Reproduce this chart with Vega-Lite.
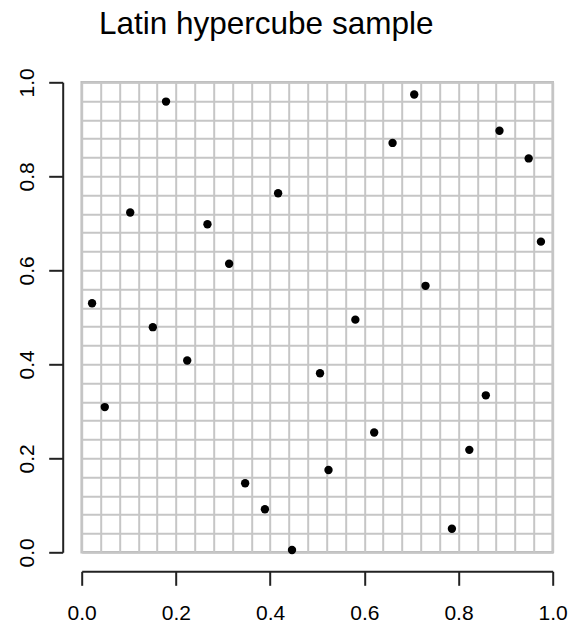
{
  "$schema": "https://vega.github.io/schema/vega-lite/v6.json",
  "width": 471,
  "height": 470,
  "autosize": {"type": "none"},
  "padding": {"left": 81.7, "top": 82.3, "right": 18.3, "bottom": 71.7},
  "background": "white",
  "title": {
    "text": "Latin hypercube sample",
    "font": "Liberation Sans",
    "fontSize": 31.5,
    "fontWeight": "normal",
    "color": "black",
    "anchor": "middle",
    "frame": "group",
    "offset": 27,
    "dx": -51
  },
  "config": {
    "view": {"stroke": "#bdbdbd", "strokeWidth": 2.5},
    "axis": {
      "labelFont": "Liberation Sans",
      "labelFontSize": 21,
      "labelColor": "black",
      "labelOverlap": false,
      "labelFlush": false,
      "gridColor": "#c6c6c6",
      "gridWidth": 2,
      "gridOpacity": 1,
      "domainColor": "#222222",
      "domainWidth": 2,
      "tickColor": "#222222",
      "tickWidth": 2,
      "tickSize": 14,
      "title": null
    }
  },
  "data": {
    "values": [
      {"x": 0.179, "y": 0.959},
      {"x": 0.417, "y": 0.764},
      {"x": 0.103, "y": 0.723},
      {"x": 0.267, "y": 0.698},
      {"x": 0.313, "y": 0.614},
      {"x": 0.022, "y": 0.530},
      {"x": 0.706, "y": 0.974},
      {"x": 0.887, "y": 0.897},
      {"x": 0.660, "y": 0.871},
      {"x": 0.949, "y": 0.838},
      {"x": 0.975, "y": 0.661},
      {"x": 0.730, "y": 0.567},
      {"x": 0.581, "y": 0.495},
      {"x": 0.151, "y": 0.479},
      {"x": 0.224, "y": 0.408},
      {"x": 0.506, "y": 0.381},
      {"x": 0.049, "y": 0.309},
      {"x": 0.347, "y": 0.147},
      {"x": 0.389, "y": 0.0915},
      {"x": 0.4465, "y": 0.005},
      {"x": 0.858, "y": 0.334},
      {"x": 0.621, "y": 0.255},
      {"x": 0.823, "y": 0.218},
      {"x": 0.524, "y": 0.175},
      {"x": 0.786, "y": 0.050}
    ]
  },
  "layer": [
    {
      "mark": {"type": "circle", "opacity": 0, "size": 70},
      "encoding": {
        "x": {
          "field": "x",
          "type": "quantitative",
          "scale": {"domain": [0, 1], "nice": false, "zero": false},
          "axis": {
            "orient": "bottom",
            "grid": true,
            "ticks": false,
            "labels": false,
            "domain": false,
            "offset": 0,
            "values": [0, 0.04, 0.08, 0.12, 0.16, 0.2, 0.24, 0.28, 0.32, 0.36, 0.4, 0.44, 0.48, 0.52, 0.56, 0.6, 0.64, 0.68, 0.72, 0.76, 0.8, 0.84, 0.88, 0.92, 0.96, 1]
          }
        },
        "y": {
          "field": "y",
          "type": "quantitative",
          "scale": {"domain": [0, 1], "nice": false, "zero": false},
          "axis": {
            "orient": "left",
            "grid": true,
            "ticks": false,
            "labels": false,
            "domain": false,
            "offset": 0,
            "values": [0, 0.04, 0.08, 0.12, 0.16, 0.2, 0.24, 0.28, 0.32, 0.36, 0.4, 0.44, 0.48, 0.52, 0.56, 0.6, 0.64, 0.68, 0.72, 0.76, 0.8, 0.84, 0.88, 0.92, 0.96, 1]
          }
        }
      }
    },
    {
      "mark": {"type": "circle", "color": "black", "opacity": 1, "size": 70},
      "encoding": {
        "x": {
          "field": "x",
          "type": "quantitative",
          "axis": {
            "orient": "bottom",
            "grid": false,
            "offset": 19,
            "values": [0, 0.2, 0.4, 0.6, 0.8, 1],
            "format": ".1f",
            "labelPadding": 17,
            "labelAngle": 0,
            "labelAlign": "center",
            "labelBaseline": "top"
          }
        },
        "y": {
          "field": "y",
          "type": "quantitative",
          "axis": {
            "orient": "left",
            "grid": false,
            "offset": 19,
            "values": [0, 0.2, 0.4, 0.6, 0.8, 1],
            "format": ".1f",
            "labelPadding": 11,
            "labelAngle": -90,
            "labelAlign": "center",
            "labelBaseline": "bottom"
          }
        }
      }
    }
  ],
  "resolve": {"axis": {"x": "independent", "y": "independent"}}
}
